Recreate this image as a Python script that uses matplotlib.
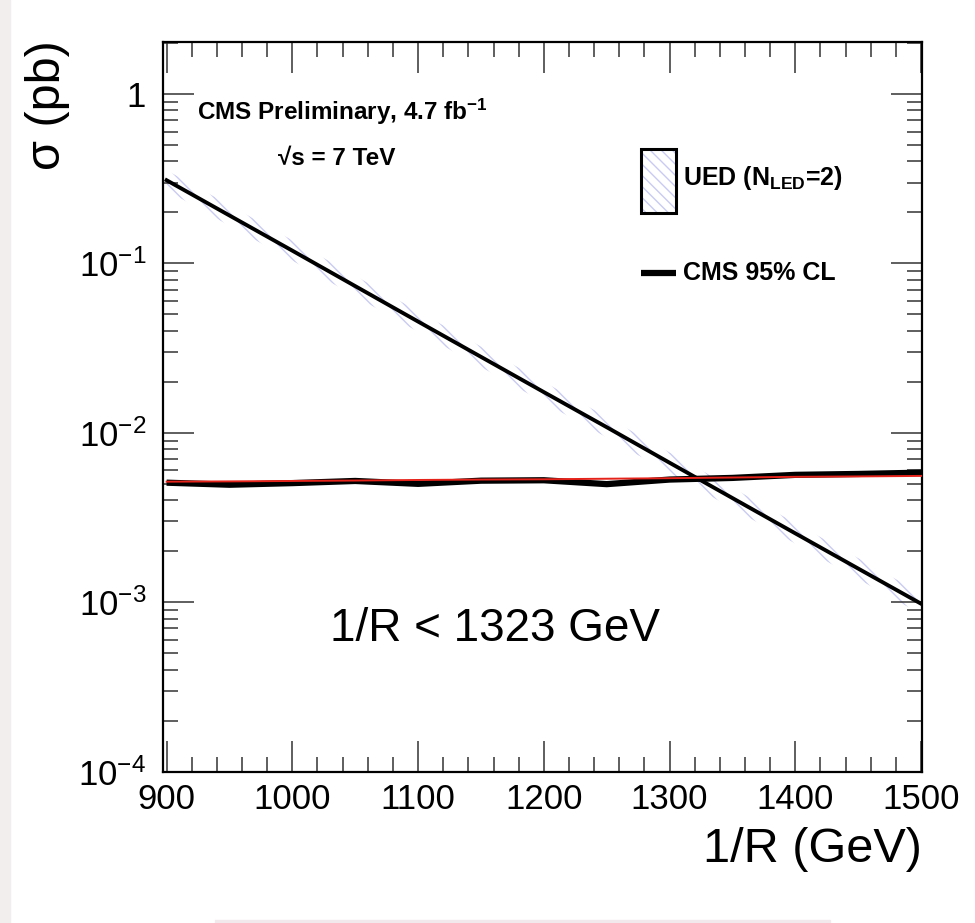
import matplotlib
matplotlib.use('Agg')
import matplotlib.pyplot as plt
from matplotlib.patches import Rectangle
from matplotlib.ticker import FixedLocator, FixedFormatter, MultipleLocator, LogLocator, NullFormatter

plt.rcParams['font.family'] = ['Liberation Sans', 'DejaVu Sans']
plt.rcParams['mathtext.fontset'] = 'custom'
plt.rcParams['mathtext.rm'] = 'Liberation Sans'
plt.rcParams['mathtext.it'] = 'Liberation Sans:italic'
plt.rcParams['mathtext.bf'] = 'Liberation Sans:bold'
plt.rcParams['hatch.linewidth'] = 1.0

# 1/R points (GeV)
mass = [900, 950, 1000, 1050, 1100, 1150, 1200, 1250, 1300, 1350, 1400, 1450, 1500]

# UED theory cross section (pb), N_LED = 2
ued_xsec = [0.310, 0.192, 0.119, 0.0735, 0.0454, 0.0281, 0.0174,
            0.0108, 0.00666, 0.00412, 0.00255, 0.00158, 0.00098]
ued_up = [0.355, 0.221, 0.137, 0.0845, 0.0522, 0.0323, 0.0200,
          0.0124, 0.00766, 0.00474, 0.00293, 0.00182, 0.00113]
ued_down = [0.270, 0.167, 0.104, 0.0640, 0.0395, 0.0245, 0.0151,
            0.0094, 0.00580, 0.00358, 0.00222, 0.00137, 0.00085]

# CMS 95% CL limits (pb)
obs_limit = [0.00508, 0.00494, 0.00505, 0.00520, 0.00500, 0.00522, 0.00525,
             0.00498, 0.00530, 0.00542, 0.00565, 0.00572, 0.00582]
exp_limit = [0.00515, 0.00517, 0.00520, 0.00523, 0.00527, 0.00530, 0.00532,
             0.00536, 0.00540, 0.00545, 0.00550, 0.00553, 0.00557]

ytick_vals = [1e-4, 1e-3, 1e-2, 1e-1, 1]
ytick_labels = ['$10^{-4}$', '$10^{-3}$', '$10^{-2}$', '$10^{-1}$', '1']

W, H = 975, 923
fig = plt.figure(figsize=(9.75, 9.23), dpi=100)
fig.subplots_adjust(left=0.167, right=0.946, bottom=0.164, top=0.9545)
ax = fig.add_subplot(111)

# faint scan background strips
fig.patches.append(Rectangle((0, 0), 10 / W, 1, transform=fig.transFigure,
                             color='#f3eeee', zorder=-10))
fig.patches.append(Rectangle((215 / W, 0), 615 / W, 3 / H, transform=fig.transFigure,
                             color='#f1e9ec', zorder=-10))

hatch_col = '#c9cbf2'
ax.fill_between(mass, ued_down, ued_up, facecolor='none', edgecolor=hatch_col,
                hatch='\\\\', linewidth=0, zorder=1)
ax.plot(mass, ued_xsec, color='black', lw=2.8, zorder=3)
ax.plot(mass, obs_limit, color='black', lw=4.5, solid_capstyle='butt', zorder=4)
ax.plot(mass, exp_limit, color='#e5231b', lw=1.4, zorder=5)

ax.set_yscale('log')
ax.set_xlim(897, 1501)
ax.set_ylim(1e-4, 2.03)

ax.xaxis.set_major_locator(MultipleLocator(100))
ax.xaxis.set_minor_locator(MultipleLocator(20))
ax.yaxis.set_major_locator(FixedLocator(ytick_vals))
ax.yaxis.set_major_formatter(FixedFormatter(ytick_labels))
ax.yaxis.set_minor_locator(LogLocator(base=10, subs=range(2, 10)))
ax.yaxis.set_minor_formatter(NullFormatter())

ax.tick_params(which='both', direction='in', top=True, right=True, width=1.1, color='#333333')
ax.tick_params(which='major', length=22)
ax.tick_params(which='minor', length=11)
ax.tick_params(axis='x', which='major', labelsize=25, pad=8)
ax.tick_params(axis='y', which='major', labelsize=25, pad=12)
for s in ax.spines.values():
    s.set_linewidth(1.6)

ax.set_xlabel('1/R (GeV)', fontsize=35, loc='right', labelpad=8)
fig.text(48 / W, 1 - 40 / H, 'σ (pb)', fontsize=35, rotation=90, ha='center', va='top')

ax.text(0.045, 0.904, r'CMS Preliminary, 4.7 fb$^{\mathbf{-1}}$', transform=ax.transAxes,
        fontsize=17.5, fontweight='bold', va='center')
ax.text(0.152, 0.84, '√s = 7 TeV', transform=ax.transAxes,
        fontsize=17.5, fontweight='bold', va='center')
ax.text(0.22, 0.196, '1/R < 1323 GeV', transform=ax.transAxes, fontsize=33, va='center')

# legend, drawn by hand in figure pixels
fig.patches.append(Rectangle((641 / W, 1 - 213 / H), 35 / W, 64 / H, transform=fig.transFigure,
                             facecolor='white', edgecolor=hatch_col, hatch='\\\\\\', lw=0, zorder=5))
fig.patches.append(Rectangle((641 / W, 1 - 213 / H), 35 / W, 64 / H, transform=fig.transFigure,
                             facecolor='none', edgecolor='black', lw=2.2, zorder=6))
fig.lines.append(plt.Line2D([641 / W, 676 / W], [1 - 273 / H, 1 - 273 / H],
                            transform=fig.transFigure, color='black', lw=4.5,
                            solid_capstyle='butt'))
fig.text(683 / W, 1 - 178 / H, r'UED (N$_{\mathbf{LED}}$=2)', fontsize=18,
         fontweight='bold', va='center')
fig.text(683 / W, 1 - 273 / H, 'CMS 95% CL', fontsize=18, fontweight='bold', va='center')

plt.savefig('out.png', dpi=100)
